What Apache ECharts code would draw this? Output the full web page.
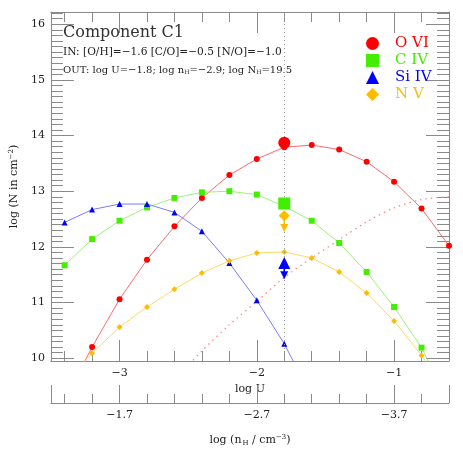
<!DOCTYPE html>
<html>
<head>
<meta charset="utf-8">
<script src="https://cdn.jsdelivr.net/npm/echarts@6/dist/echarts.min.js"></script>
<style>
  html, body { margin: 0; padding: 0; background: #fff; }
  #chart { width: 463px; height: 463px; }
</style>
</head>
<body>
<div id="chart"></div>
<script>
  // log U grid of the photoionisation models
  var logU = [-3.4, -3.2, -3.0, -2.8, -2.6, -2.4, -2.2, -2.0, -1.8, -1.6, -1.4, -1.2, -1.0, -0.8, -0.6];
  // model column densities, log N
  var oVI = [9.25, 10.2, 11.06, 11.77, 12.37, 12.88, 13.29, 13.58, 13.79, 13.83, 13.75, 13.53, 13.17, 12.69, 12.02];
  var cIV = [11.67, 12.14, 12.47, 12.71, 12.88, 12.98, 13.0, 12.94, 12.73, 12.47, 12.07, 11.55, 10.92, 10.19, 9.2];
  var siIV = [12.44, 12.67, 12.77, 12.77, 12.62, 12.28, 11.71, 11.04, 10.26, 9.3];
  var nV = [9.57, 10.09, 10.56, 10.92, 11.24, 11.53, 11.75, 11.89, 11.91, 11.8, 11.55, 11.17, 10.67, 10.05, 9.35];
  // second O VI curve (dotted)
  var oVIdotU = [-2.6, -2.4, -2.2, -2.0, -1.8, -1.6, -1.4, -1.2, -1.0, -0.8, -0.6];
  var oVIdot = [9.6, 10.13, 10.6, 11.02, 11.45, 11.8, 12.13, 12.45, 12.7, 12.85, 12.9];
  // observed values at the adopted log U
  var obsU = -1.8;
  var obsOVI = 13.87;
  var obsCIV = 12.78;
  var obsNV = [12.56, 12.34];   // value, upper limit arrow
  var obsSiIV = [11.71, 11.49];

  var RED = '#ff0000', GREEN = '#44ee00', BLUE = '#0000ff', ORANGE = '#ffbb00';
  var SERIF = '"DejaVu Serif", "Liberation Serif", serif';
  var AXC = '#8a8a8a';

  function pairs(xs, ys) {
    return ys.map(function (y, i) { return [xs[i], y]; });
  }
  function minus(v) { return String(v).replace('-', '\u2212'); }

  var chart = echarts.init(document.getElementById('chart'));

  var xBase = {
    type: 'value', min: -3.5, max: -0.6, splitNumber: 3,
    splitLine: { show: false },
    axisLine: { lineStyle: { color: AXC, width: 1 } },
    axisTick: { inside: true, length: 21, lineStyle: { color: AXC } },
    minorTick: { show: true, splitNumber: 5, length: 10, lineStyle: { color: AXC } },
    minorSplitLine: { show: false }
  };
  var yBase = {
    type: 'value', min: 9.95, max: 16.22, splitNumber: 6,
    splitLine: { show: false },
    axisLine: { show: true, lineStyle: { color: AXC, width: 1 } },
    axisTick: { inside: true, length: 23, lineStyle: { color: AXC } },
    minorTick: { show: true, splitNumber: 10, length: 12, lineStyle: { color: AXC } },
    minorSplitLine: { show: false }
  };

  // big observed markers
  function obs(name, point, symbol, size, color, rotate) {
    return {
      name: name, type: 'scatter', data: [point], z: 5,
      symbol: symbol, symbolSize: size, symbolRotate: rotate || 0,
      itemStyle: { color: color, opacity: 1 }
    };
  }

  chart.setOption({
    animation: false,
    backgroundColor: '#fff',
    textStyle: { fontFamily: SERIF },
    grid: { left: 46, right: 14, top: 12, bottom: 102, containLabel: false },
    legend: {
      orient: 'vertical', left: 361, top: 31,
      itemWidth: 13, itemHeight: 13, itemGap: 2,
      selectedMode: false,
      textStyle: { fontSize: 15, fontFamily: SERIF, padding: [0, 0, 0, 11] },
      data: [
        { name: 'O VI', icon: 'circle', textStyle: { color: RED } },
        { name: 'C IV', icon: 'rect', textStyle: { color: GREEN } },
        { name: 'Si IV', icon: 'triangle', textStyle: { color: BLUE } },
        { name: 'N V', icon: 'diamond', textStyle: { color: ORANGE } }
      ]
    },
    xAxis: [
      Object.assign({}, xBase, {
        position: 'bottom',
        name: 'log U', nameLocation: 'middle', nameGap: 22,
        nameTextStyle: { fontSize: 11, color: '#222', fontFamily: SERIF },
        axisLabel: { fontSize: 11, color: '#222', margin: 7, fontFamily: SERIF, showMinLabel: false, showMaxLabel: false,
          formatter: function (v) { return minus(v); } }
      }),
      Object.assign({}, xBase, {
        position: 'top',
        axisLabel: { show: false }
      }),
      Object.assign({}, xBase, {
        position: 'bottom', offset: 42,
        axisTick: { inside: true, length: 18, lineStyle: { color: AXC } },
        minorTick: { show: true, splitNumber: 5, length: 9, lineStyle: { color: AXC } },
        axisLabel: {
          fontSize: 11, color: '#222', margin: 7, fontFamily: SERIF, showMinLabel: false, showMaxLabel: false,
          formatter: function (v) { return minus((-v - 4.7).toFixed(1)); }
        },
        name: '{t|log (n}{sub|H}{t| / cm}{sup|\u22123}{t|)}',
        nameLocation: 'middle', nameGap: 31,
        nameTextStyle: {
          fontSize: 11, color: '#222', fontFamily: SERIF,
          rich: {
            t: { fontSize: 11, color: '#222', fontFamily: SERIF },
            sub: { fontSize: 7, color: '#222', fontFamily: SERIF, padding: [5, 0, 0, 1] },
            sup: { fontSize: 7, color: '#222', fontFamily: SERIF, padding: [0, 0, 6, 0] }
          }
        }
      })
    ],
    yAxis: [
      Object.assign({}, yBase, {
        position: 'left',
        axisLabel: { fontSize: 11, color: '#222', margin: 6, fontFamily: SERIF, showMinLabel: false, showMaxLabel: false,
          formatter: function (v) { return Math.abs(v - Math.round(v)) < 1e-6 ? String(Math.round(v)) : ''; } },
        name: '{t|log (N in cm}{sup|\u22122}{t|)}',
        nameLocation: 'middle', nameGap: 28, nameRotate: 90,
        nameTextStyle: {
          fontSize: 11, color: '#222', fontFamily: SERIF,
          rich: {
            t: { fontSize: 11, color: '#222', fontFamily: SERIF },
            sup: { fontSize: 7, color: '#222', fontFamily: SERIF, padding: [0, 0, 6, 0] }
          }
        }
      }),
      Object.assign({}, yBase, {
        position: 'right',
        axisLabel: { show: false }
      })
    ],
    graphic: [
      { type: 'text', left: 63, top: 25, style: { text: 'Component C1', font: '16px ' + SERIF, fill: '#333' } },
      { type: 'text', left: 63, top: 47, style: { text: 'IN: [O/H]=\u22121.6 [C/O]=\u22120.5 [N/O]=\u22121.0', font: '10.6px ' + SERIF, fill: '#222' } },
      { type: 'text', left: 63, top: 65, style: {
        text: '{t|OUT: log U=\u22121.8; log n}{s|H}{t|=\u22122.9; log N}{s|H}{t|=19.5}',
        rich: {
          t: { font: '10px ' + SERIF, fill: '#222' },
          s: { font: '6px ' + SERIF, fill: '#222', padding: [5, 0, 0, 0] }
        }
      } }
    ],
    series: [
      {
        name: 'O VI', type: 'line', data: pairs(logU, oVI),
        symbol: 'circle', symbolSize: 6, clip: true,
        itemStyle: { color: RED }, lineStyle: { color: '#ff6a6a', width: 1 },
        markLine: {
          silent: true, symbol: 'none', label: { show: false },
          lineStyle: { color: '#999', type: [1, 3], width: 1 },
          data: [{ xAxis: obsU }]
        }
      },
      {
        name: 'O VI dotted', type: 'line', data: pairs(oVIdotU, oVIdot),
        showSymbol: false, smooth: 0.3, clip: true,
        itemStyle: { color: RED }, lineStyle: { color: '#ff8080', width: 1.2, type: [1.5, 4] }
      },
      {
        name: 'C IV', type: 'line', data: pairs(logU, cIV),
        symbol: 'rect', symbolSize: 6, clip: true,
        itemStyle: { color: GREEN }, lineStyle: { color: '#9cf27a', width: 1 }
      },
      {
        name: 'Si IV', type: 'line', data: pairs(logU, siIV),
        symbol: 'triangle', symbolSize: 6, clip: true,
        itemStyle: { color: BLUE }, lineStyle: { color: '#7b7bff', width: 1 }
      },
      {
        name: 'N V', type: 'line', data: pairs(logU, nV),
        symbol: 'diamond', symbolSize: 6, clip: true,
        itemStyle: { color: ORANGE }, lineStyle: { color: '#ffd766', width: 1 }
      },
      // observed column densities, with arrows for the limits
      {
        name: 'N V limit', type: 'line', data: [[obsU, obsNV[0]], [obsU, obsNV[1]]], z: 4,
        symbol: 'none', lineStyle: { color: ORANGE, width: 1.5 }
      },
      {
        name: 'Si IV limit', type: 'line', data: [[obsU, obsSiIV[0]], [obsU, obsSiIV[1]]], z: 4,
        symbol: 'none', lineStyle: { color: BLUE, width: 1.5 }
      },
      obs('obs O VI', [obsU, obsOVI], 'circle', 12, RED),
      obs('obs C IV', [obsU, obsCIV], 'rect', 12, GREEN),
      obs('obs N V', [obsU, obsNV[0]], 'diamond', 11, ORANGE),
      obs('obs N V arrow', [obsU, obsNV[1]], 'triangle', 8, ORANGE, 180),
      obs('obs Si IV', [obsU, obsSiIV[0]], 'triangle', 12, BLUE),
      obs('obs Si IV arrow', [obsU, obsSiIV[1]], 'triangle', 8, BLUE, 180)
    ]
  });
</script>
</body>
</html>
